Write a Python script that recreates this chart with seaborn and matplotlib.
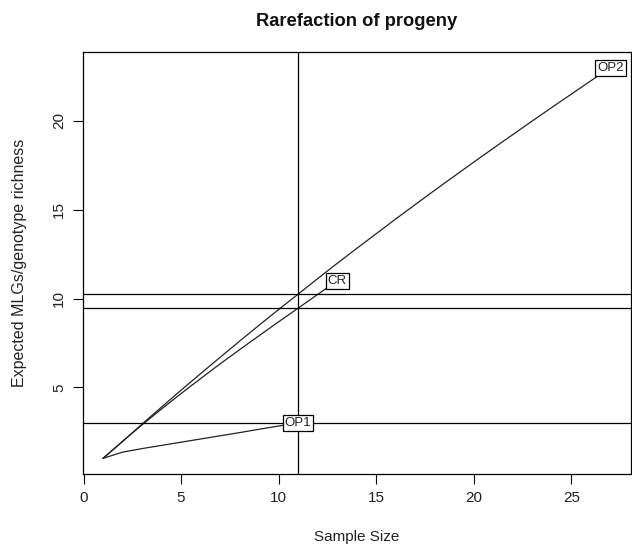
import numpy as np
import pandas as pd
import seaborn as sns
import matplotlib
matplotlib.use('Agg')
import matplotlib.pyplot as plt

# rarefied genotype richness per population
POPS = ['OP2', 'CR', 'OP1']
OP2_S = [1.0, 1.95, 2.93, 3.89, 4.84, 5.77, 6.69, 7.60, 8.50, 9.38, 10.25, 11.12, 11.98,
         12.82, 13.65, 14.48, 15.29, 16.10, 16.89, 17.68, 18.46, 19.23, 20.0, 20.76,
         21.51, 22.26, 23.0]
CR_S = [1.0, 1.96, 2.89, 3.78, 4.65, 5.49, 6.32, 7.12, 7.91, 8.69, 9.46, 10.23, 11.0]
OP1_S = [1.0, 1.35, 1.55, 1.73, 1.91, 2.09, 2.27, 2.45, 2.64, 2.82, 3.0]
MIN_N = 11
S_AT_MIN = [10.25, 9.46, 3.0]

curves = {'OP2': OP2_S, 'CR': CR_S, 'OP1': OP1_S}
rows = []
for pop, vals in curves.items():
    for i, s in enumerate(vals):
        rows.append({'pop': pop, 'n': i + 1, 'S': s})
df = pd.DataFrame(rows)

sns.set_theme(style='white')
plt.rcParams['font.family'] = ['Liberation Sans', 'DejaVu Sans']

fig = plt.figure(figsize=(6.32, 5.5), dpi=100)
ax = fig.add_axes([0.1309, 0.1382, 0.8671, 0.7673])

sns.lineplot(data=df, x='n', y='S', units='pop', estimator=None,
             color='#222222', linewidth=0.9, ax=ax, legend=False)

ax.axvline(MIN_N, color='black', linewidth=0.9)
for s in S_AT_MIN:
    ax.axhline(s, color='black', linewidth=0.9)

for pop, vals in curves.items():
    ax.text(len(vals), vals[-1], pop, ha='center', va='center', fontsize=9.5,
            color='#222222',
            bbox=dict(boxstyle='square,pad=0.15', fc='white', ec='black', lw=0.9))

ax.set_xlim(-0.04, 28.04)
ax.set_ylim(0.12, 23.88)
ax.set_xticks([0, 5, 10, 15, 20, 25])
ax.set_yticks([5, 10, 15, 20])
ax.tick_params(axis='both', direction='out', length=7, width=0.8, color='black',
               labelsize=11, labelcolor='#222222', pad=5, bottom=True, left=True)
for lab in ax.get_yticklabels():
    lab.set_rotation(90)
    lab.set_va('center')
for sp in ax.spines.values():
    sp.set_color('black')
    sp.set_linewidth(0.9)

ax.set_xlabel('Sample Size', fontsize=11, color='#222222', labelpad=18)
ax.set_ylabel('Expected MLGs/genotype richness', fontsize=11.5, color='#222222', labelpad=18)
ax.set_title('Rarefaction of progeny', fontsize=13.2, fontweight='bold', pad=19,
             color='#111111')

fig.savefig('out.png', dpi=100)
